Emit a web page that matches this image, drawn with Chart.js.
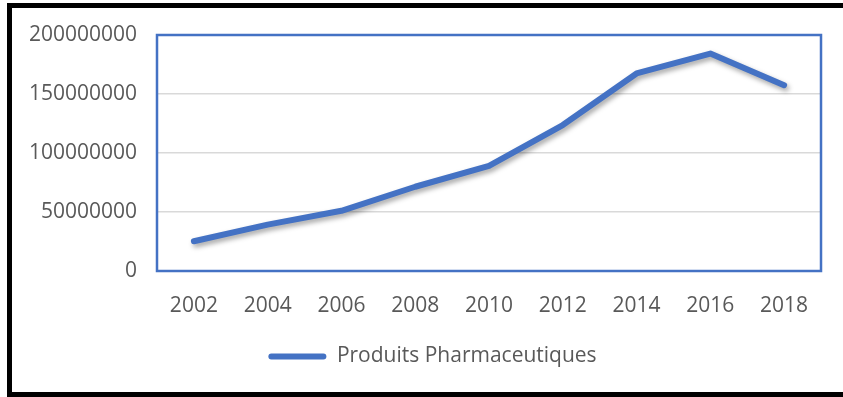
<!DOCTYPE html>
<html>
<head>
<meta charset="utf-8">
<script src="https://cdn.jsdelivr.net/npm/chart.js@4/dist/chart.umd.min.js"></script>
<style>
  html, body { margin: 0; padding: 0; background: #fff; overflow: hidden; }
  #wrap { position: relative; width: 843px; height: 397px; }
  #frame {
    position: absolute; left: 7px; top: 3px; width: 900px; height: 394px;
    box-sizing: border-box; border: 5px solid #000; pointer-events: none;
  }
  canvas { position: absolute; left: 0; top: 0; }
</style>
</head>
<body>
<div id="wrap">
  <canvas id="chart" width="843" height="397"></canvas>
  <div id="frame"></div>
</div>
<script>
// Annual values of pharmaceutical products
const years = ['2002', '2004', '2006', '2008', '2010', '2012', '2014', '2016', '2018'];
const produitsPharmaceutiques = [25200000, 39300000, 51000000, 71400000, 89000000, 123700000, 167400000, 184300000, 157500000];
const yTicks = [0, 50000000, 100000000, 150000000, 200000000];
const seriesName = 'Produits Pharmaceutiques';

const BLUE = '#4472C4';
const TEXT = '#595959';
const FONT = "'Open Sans', 'Liberation Sans', sans-serif";

// Blue frame around the plot area
const plotFrame = {
  id: 'plotFrame',
  afterDraw(chart) {
    const { ctx, chartArea: a } = chart;
    ctx.save();
    ctx.strokeStyle = BLUE;
    ctx.lineWidth = 2.5;
    ctx.strokeRect(a.left, a.top, a.right - a.left, a.bottom - a.top);
    ctx.restore();
  }
};

// Soft drop shadow under the line
const lineShadow = {
  id: 'lineShadow',
  beforeDatasetDraw(chart) {
    const ctx = chart.ctx;
    ctx.save();
    ctx.shadowColor = 'rgba(0,0,0,0.35)';
    ctx.shadowBlur = 5;
    ctx.shadowOffsetX = 2;
    ctx.shadowOffsetY = 3;
  },
  afterDatasetDraw(chart) {
    chart.ctx.restore();
  }
};

// Centre the legend under the plot area rather than the whole canvas
const legendUnderPlot = {
  id: 'legendUnderPlot',
  afterLayout(chart) {
    if (chart.legend) {
      chart.legend.left = chart.chartArea.left - 113;
      chart.legend.right = chart.chartArea.right;
    }
  }
};

new Chart(document.getElementById('chart'), {
  type: 'line',
  data: {
    labels: years,
    datasets: [{
      label: seriesName,
      data: produitsPharmaceutiques,
      borderColor: BLUE,
      backgroundColor: BLUE,
      borderWidth: 6,
      borderCapStyle: 'round',
      borderJoinStyle: 'round',
      pointRadius: 0,
      pointHoverRadius: 0,
      tension: 0,
      fill: false
    }]
  },
  options: {
    responsive: false,
    animation: false,
    devicePixelRatio: 1,
    layout: { padding: { left: 0, right: 22, top: 35, bottom: 20 } },
    scales: {
      x: {
        offset: true,
        grid: { display: false, drawTicks: false },
        border: { display: false },
        ticks: { color: TEXT, font: { family: FONT, size: 21 }, padding: 22, maxRotation: 0 },
        afterFit(scale) { scale.height = 65; }
      },
      y: {
        min: 0,
        max: 200000000,
        afterBuildTicks(scale) { scale.ticks = yTicks.map(v => ({ value: v })); },
        grid: { color: '#d9d9d9', lineWidth: 1.5, drawTicks: false },
        border: { display: false },
        ticks: {
          color: TEXT, font: { family: FONT, size: 21 }, padding: 20,
          callback: v => String(v)
        },
        afterFit(scale) { scale.width = 157; }
      }
    },
    plugins: {
      legend: {
        position: 'bottom',
        labels: {
          color: TEXT,
          font: { family: FONT, size: 21 },
          padding: 10,
          boxWidth: 58,
          boxHeight: 6,
          useBorderRadius: true,
          borderRadius: 3,
          generateLabels(chart) {
            const ds = chart.data.datasets[0];
            return [{ text: ds.label, fillStyle: BLUE, strokeStyle: BLUE, lineWidth: 0, datasetIndex: 0, borderRadius: 3, fontColor: TEXT }];
          }
        }
      },
      tooltip: { enabled: false }
    }
  },
  plugins: [plotFrame, lineShadow, legendUnderPlot]
});
</script>
</body>
</html>
